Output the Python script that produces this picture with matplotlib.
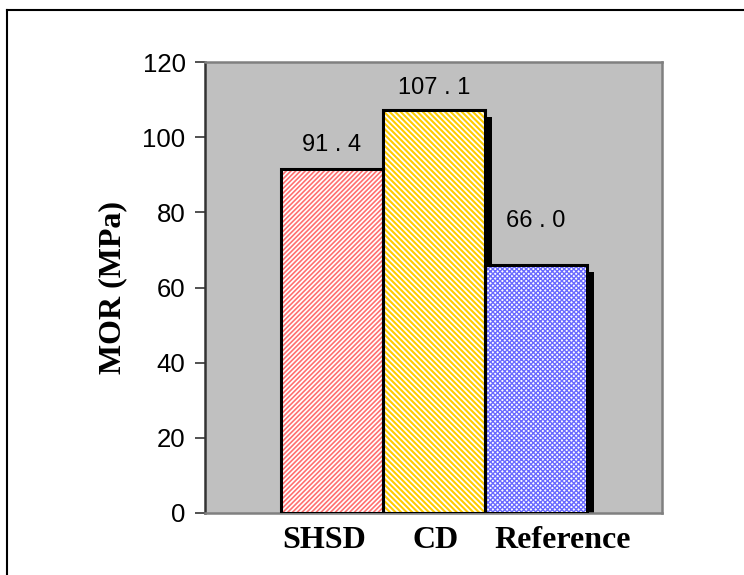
import matplotlib
matplotlib.use("Agg")
import matplotlib.pyplot as plt
from matplotlib.lines import Line2D

categories = ["SHSD", "CD", "Reference"]
mor_values = [91.4, 107.1, 66.0]
value_labels = ["91 . 4", "107 . 1", "66 . 0"]
y_ticks = [0, 20, 40, 60, 80, 100, 120]

hatch_colors = ["#FF7070", "#FFCC00", "#6A6AFF"]
hatches = ["///////", "\\\\\\\\\\\\", "xxxxxxx"]
hatch_widths = [1.2, 1.5, 1.0]
label_offsets = [10, 8, 24]        # points above bar top
cat_label_x = [-0.08, 1.02, 2.26]  # where the category names sit


def draw_chart():
    fig = plt.figure(figsize=(7.44, 5.75), dpi=100)
    ax = fig.add_axes([205 / 744, 62 / 575, 457 / 744, 451 / 575])
    ax.set_facecolor("#C0C0C0")

    dx, dy = 0.064, 1.75
    for i, v in enumerate(mor_values):
        plt.rcParams['hatch.linewidth'] = hatch_widths[i]
        # drop shadow
        ax.bar(i + dx, v - dy, width=1.0, color="black", linewidth=0, zorder=2)
        # hatched fill
        ax.bar(i, v, width=1.0, facecolor="white", edgecolor=hatch_colors[i],
               hatch=hatches[i], linewidth=0, zorder=3)
        # outline
        ax.bar(i, v, width=1.0, fill=False, edgecolor="black", linewidth=2.2, zorder=4)
        ax.annotate(value_labels[i], (i, v), xytext=(0, label_offsets[i]),
                    textcoords="offset points", ha="center", va="bottom",
                    fontsize=17, family="Liberation Sans", zorder=5)

    ax.set_xlim(-1.245, 3.235)
    ax.set_ylim(0, 120)
    ax.set_yticks(y_ticks)
    ax.set_yticklabels([str(t) for t in y_ticks], fontsize=18.5, family="Liberation Sans")
    ax.tick_params(axis="y", length=7, width=1.2, pad=7, color="#333333")
    ax.set_xticks([])

    for s in ["top", "right", "bottom"]:
        ax.spines[s].set_color("#808080")
        ax.spines[s].set_linewidth(1.8)
    ax.spines["left"].set_color("#333333")
    ax.spines["left"].set_linewidth(1.8)

    for x, name in zip(cat_label_x, categories):
        ax.text(x, -0.06, name, transform=ax.get_xaxis_transform(), ha="center",
                va="center", fontsize=23, fontweight="bold", family="Liberation Serif")

    fig.text(113 / 744, 0.5, "MOR (MPa)", rotation=90, ha="center", va="center",
             fontsize=23, fontweight="bold", family="Liberation Serif")

    # outer frame (only top and left visible in the original crop)
    fig.add_artist(Line2D([7 / 744, 1], [1 - 10 / 575, 1 - 10 / 575],
                          transform=fig.transFigure, color="black", linewidth=1.5))
    fig.add_artist(Line2D([7 / 744, 7 / 744], [0, 1 - 10 / 575],
                          transform=fig.transFigure, color="black", linewidth=1.5))

    fig.savefig("out.png", dpi=100)


if __name__ == "__main__":
    draw_chart()
